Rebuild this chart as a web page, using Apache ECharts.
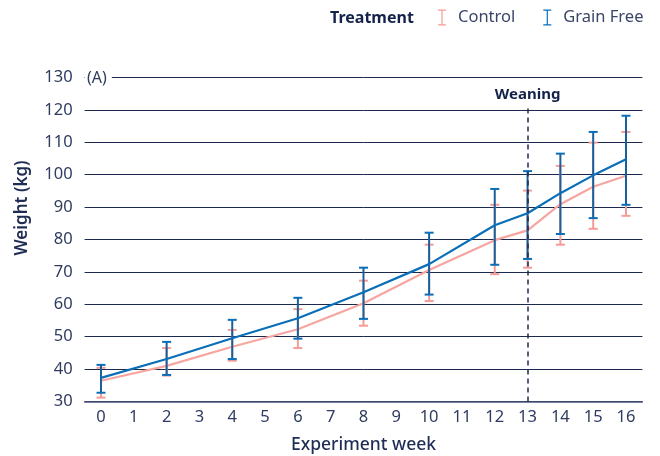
<!DOCTYPE html>
<html>
<head>
<meta charset="utf-8">
<script src="https://cdn.jsdelivr.net/npm/echarts@6/dist/echarts.min.js"></script>
<style>html,body{margin:0;padding:0;background:#fff}#c{width:660px;height:456px}</style>
</head>
<body>
<div id="c"></div>
<script>
const categories = ['0','1','2','3','4','5','6','7','8','9','10','11','12','13','14','15','16'];
const weeks = ['0','2','4','6','8','10','12','13','14','15','16'];
const gfMean = [37.3, 43.1, 49.5, 55.7, 63.7, 72.4, 84.4, 88.1, 94.3, 99.8, 104.8];
const gfLow  = [32.7, 38.2, 43.1, 49.4, 55.5, 63.0, 72.2, 74.0, 81.7, 86.6, 90.7];
const gfHigh = [41.3, 48.4, 55.2, 62.0, 71.3, 82.1, 95.6, 101.1, 106.5, 113.2, 118.2];
const ctMean = [36.4, 41.0, 46.9, 52.3, 60.3, 70.6, 79.8, 82.8, 90.9, 96.3, 99.7];
const ctLow  = [31.2, 38.0, 42.6, 46.5, 53.4, 61.0, 69.3, 71.3, 78.4, 83.3, 87.3];
const ctHigh = [40.4, 46.5, 52.1, 58.5, 67.3, 78.4, 90.7, 95.1, 102.7, 109.9, 113.2];
const weaningWeek = '13';

const PINK = '#f59c97', PINK_LINE = '#f6a5a1';
const BLUE = '#0a6fb8', BLUE_STEM = '#17609a';
const NAVY = '#1b2a4e', TXT = '#2f3c60';
const FONT = 'Noto Sans';

function errSeries(name, low, high, capColor, stemColor) {
  return {
    type: 'custom', name: name, z: 3,
    data: weeks.map((w, i) => [w, low[i], high[i]]),
    renderItem: function (params, api) {
      const lo = api.coord([api.value(0), api.value(1)]);
      const hi = api.coord([api.value(0), api.value(2)]);
      const hw = 4.5;
      return {
        type: 'group',
        children: [
          {type: 'line', shape: {x1: hi[0], y1: hi[1], x2: lo[0], y2: lo[1]}, style: {stroke: stemColor, lineWidth: 2}},
          {type: 'line', shape: {x1: hi[0]-hw, y1: hi[1], x2: hi[0]+hw, y2: hi[1]}, style: {stroke: capColor, lineWidth: 2}},
          {type: 'line', shape: {x1: lo[0]-hw, y1: lo[1], x2: lo[0]+hw, y2: lo[1]}, style: {stroke: capColor, lineWidth: 2}}
        ]
      };
    },
    encode: {x: 0, y: [1, 2]}
  };
}

const iconPath = 'path://M0,0H10V1.5H5.75V18.5H10V20H0V18.5H4.25V1.5H0Z';

const chart = echarts.init(document.getElementById('c'), null, {renderer: 'canvas'});
chart.setOption({
  animation: false,
  textStyle: {fontFamily: FONT},
  title: [
    {text: '(A)', left: 85, top: 69, padding: [1, 5, 1, 2], backgroundColor: '#fff', z: 10,
     textStyle: {fontSize: 16, fontWeight: 'normal', color: TXT, fontFamily: FONT}},
    {text: 'Treatment', left: 330, top: 10, padding: 0,
     textStyle: {fontSize: 16, fontWeight: 'bold', color: '#14224a', fontFamily: FONT}}
  ],
  legend: {
    left: 438, top: 9, itemWidth: 8, itemHeight: 20, itemGap: 28, padding: 0,
    textStyle: {fontSize: 16.5, color: '#3b4669', fontFamily: FONT, padding: [0, 0, 0, 7]},
    data: [
      {name: 'Control', icon: iconPath, itemStyle: {color: PINK}},
      {name: 'Grain Free', icon: iconPath, itemStyle: {color: BLUE}}
    ]
  },
  grid: {left: 84.6, right: 17.6, top: 77.5, bottom: 54.5, containLabel: false, outerBoundsMode: 'none'},
  xAxis: {
    type: 'category', data: categories, boundaryGap: true,
    name: 'Experiment week', nameLocation: 'middle', nameGap: 35,
    nameTextStyle: {fontSize: 17.5, color: '#1f2d55', fontWeight: 500},
    axisLine: {lineStyle: {color: '#4a5675', width: 1.5}},
    axisTick: {inside: true, length: 8, lineStyle: {color: NAVY}},
    axisLabel: {fontSize: 16.5, color: TXT, margin: 7}
  },
  yAxis: {
    type: 'value', min: 30, max: 130, interval: 10,
    axisLine: {show: false}, axisTick: {show: false},
    axisLabel: {fontSize: 16.5, color: TXT, margin: 12},
    splitLine: {lineStyle: {color: NAVY, width: 1}}
  },
  graphic: [
    {type: 'text', x: 22, y: 208, rotation: Math.PI / 2,
     style: {text: 'Weight (kg)', fontSize: 17, fontWeight: 600, fill: '#1f2d55', fontFamily: FONT,
             align: 'center', verticalAlign: 'middle'}}
  ],
  series: [
    errSeries('Control', ctLow, ctHigh, PINK, PINK),
    {
      type: 'line', name: 'Control', z: 2,
      data: weeks.map((w, i) => [w, ctMean[i]]),
      showSymbol: false, symbol: 'none',
      lineStyle: {color: PINK_LINE, width: 2.2}, itemStyle: {color: PINK}
    },
    {
      type: 'line', name: 'Grain Free', z: 4,
      data: weeks.map((w, i) => [w, gfMean[i]]),
      showSymbol: false, symbol: 'none',
      lineStyle: {color: BLUE, width: 2.2}, itemStyle: {color: BLUE},
      markLine: {
        silent: true, symbol: 'none',
        lineStyle: {color: NAVY, type: [5, 4], width: 1.5},
        label: {show: true, position: 'end', formatter: 'Weaning', fontSize: 15, fontWeight: 'bold', color: '#14224a', fontFamily: FONT, distance: 4},
        data: [[{coord: [weaningWeek, 30]}, {coord: [weaningWeek, 121]}]]
      }
    },
    errSeries('Grain Free', gfLow, gfHigh, BLUE, BLUE_STEM)
  ]
});
</script>
</body>
</html>
